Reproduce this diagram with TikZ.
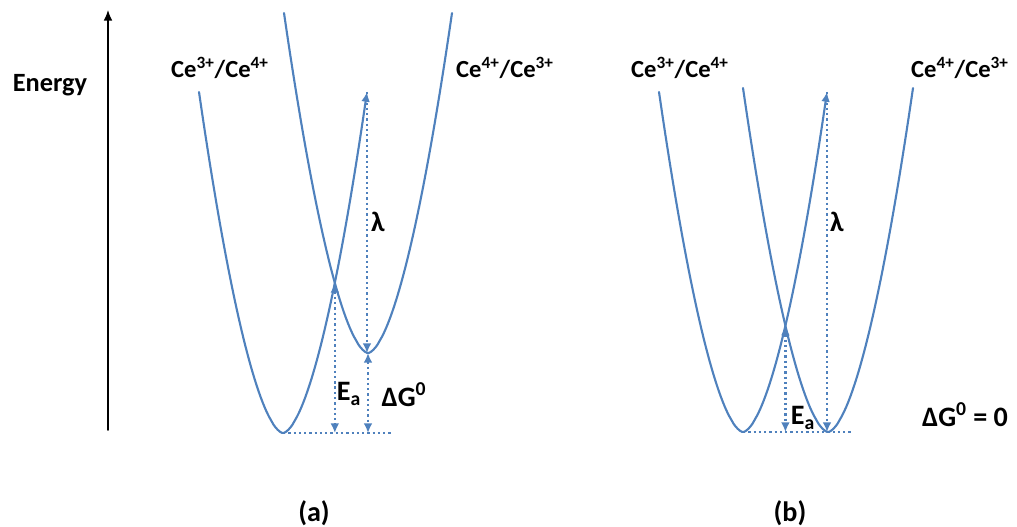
\documentclass[tikz,border=0pt]{standalone}
\usepackage{fontspec}
\setmainfont{Carlito}
\usetikzlibrary{arrows.meta,intersections}
\definecolor{wellblue}{RGB}{79,129,189}

\begin{document}
\begin{tikzpicture}[
  x=0.02cm, y=-0.02cm,
  line cap=round, line join=round, >={Latex[length=5.5pt,width=5pt]},
  well/.style={wellblue, line width=1.2pt},
  guide/.style={wellblue, line width=1.4pt, line cap=butt,
                dash pattern=on 1.3pt off 1.7pt},
  lbl/.style={inner sep=0pt, font=\bfseries\fontsize{14}{16}\selectfont},
  sym/.style={inner sep=0pt, font=\bfseries\fontsize{16}{18}\selectfont}
]
  \useasboundingbox (0,0) rectangle (1017,527);

  % ── Energy axis ───────────────────────────────────────────────────────────
  \coordinate (ebot) at (108,430);
  \coordinate (etop) at (108,10);
  \draw[->, line width=0.9pt, >={Latex[length=6pt,width=5pt]}] (ebot) -- (etop);
  \node[lbl, font=\bfseries\fontsize{15}{17}\selectfont] (energy) at (50,85) {Energy};

  % ── (a): shifted wells ────────────────────────────────────────────────────
  \coordinate (lowA)  at (283,433);
  \coordinate (highA) at (368,353);
  \coordinate (tipA)  at (367,92);

  % Ce3+ well, right branch ends in an arrow
  \draw[well, ->, name path=wellA1] plot[domain=-84:84, samples=80]
    ({283+\x}, {433-341*(abs(\x)/84)^1.7});
  % Ce4+ well
  \draw[well, name path=wellA2] plot[domain=-84:84, samples=80]
    ({368+\x}, {353-340*(abs(\x)/84)^1.7});
  \path[name intersections={of=wellA1 and wellA2, by=crossA}];

  \draw[guide] (lowA) -- ++(109,0);
  \draw[guide, <->] (crossA) -- (crossA |- lowA);
  \draw[guide, ->] (tipA) -- (tipA |- highA);
  \draw[guide, <->] (highA) -- (highA |- lowA);

  \node[lbl] (ceA1) at (220,68) {Ce\textsuperscript{3+}/Ce\textsuperscript{4+}};
  \node[lbl] (ceA2) at (505,68) {Ce\textsuperscript{4+}/Ce\textsuperscript{3+}};
  \node[sym] (lamA) at (378,222) {λ};
  \node[sym] (eaA)  at (349,394) {E\textsubscript{a}};
  \node[sym] (dgA)  at (404,395) {ΔG\textsuperscript{0}};
  \node[sym] (capA) at (314,513) {(a)};

  % ── (b): equal wells ──────────────────────────────────────────────────────
  \coordinate (lowB)  at (743,432);
  \coordinate (highB) at (828,432);
  \coordinate (tipB)  at (827,92);

  \draw[well, ->, name path=wellB1] plot[domain=-84:84, samples=80]
    ({743+\x}, {432-340*(abs(\x)/84)^1.7});
  \draw[well, name path=wellB2] plot[domain=-85:85, samples=80]
    ({828+\x}, {432-344*(abs(\x)/85)^1.7});
  \path[name intersections={of=wellB1 and wellB2, by=crossB}];

  \draw[guide] (lowB) -- ++(109,0);
  \draw[guide, <->] (crossB) -- (crossB |- lowB);
  \draw[guide, ->] (tipB) -- (tipB |- highB);

  \node[lbl] (ceB1) at (680,68) {Ce\textsuperscript{3+}/Ce\textsuperscript{4+}};
  \node[lbl] (ceB2) at (960,68) {Ce\textsuperscript{4+}/Ce\textsuperscript{3+}};
  \node[sym] (lamB) at (837,222) {λ};
  \node[sym] (eaB)  at (803,418) {E\textsubscript{a}};
  \node[sym] (dgB)  at (965,415) {ΔG\textsuperscript{0} = 0};
  \node[sym] (capB) at (790,513) {(b)};

\end{tikzpicture}
\end{document}
